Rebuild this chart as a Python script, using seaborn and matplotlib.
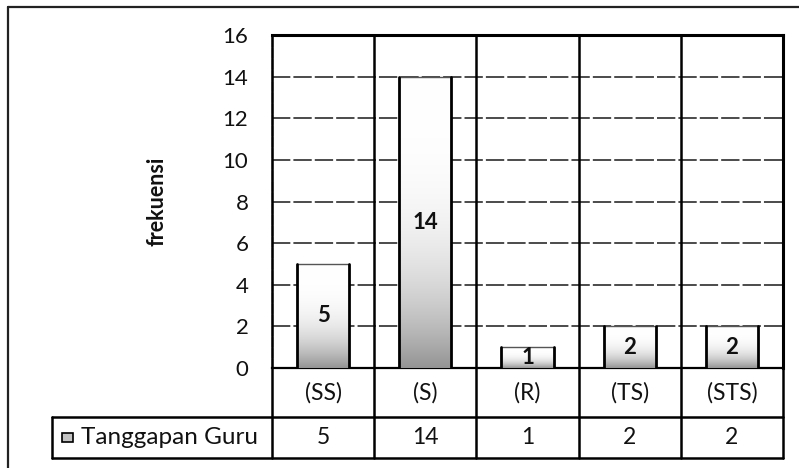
import numpy as np
import pandas as pd
import matplotlib
matplotlib.use("Agg")
import matplotlib.pyplot as plt
from matplotlib.lines import Line2D
from matplotlib.patches import Rectangle
import seaborn as sns

# Survey responses (Likert scale) and their counts
categories = ["(SS)", "(S)", "(R)", "(TS)", "(STS)"]
frequencies = [5, 14, 1, 2, 2]
series_name = "Tanggapan Guru"
y_ticks = [0, 2, 4, 6, 8, 10, 12, 14, 16]
y_label = "frekuensi"

df = pd.DataFrame({"kategori": categories, "frekuensi": frequencies})

sns.set_theme(style="white")
plt.rcParams["font.family"] = ["Lato", "DejaVu Sans"]

W, H = 799, 468
fig = plt.figure(figsize=(W / 100, H / 100), dpi=100)
fig.patch.set_facecolor("white")

# plot area in pixel terms -> figure fractions
px_left, px_right, px_top, px_bottom = 272, 783, 35, 368
ax = fig.add_axes([px_left / W, 1 - px_bottom / H,
                   (px_right - px_left) / W, (px_bottom - px_top) / H])
ax.set_facecolor("white")

sns.barplot(data=df, x="kategori", y="frekuensi", color="white",
            edgecolor="none", linewidth=0, width=0.51, ax=ax,
            zorder=3, saturation=1)

# white-to-grey gradient fill inside each bar, darkest at the base
ramp = np.linspace(0, 1, 256)[:, None]          # 0 at bottom, 1 at top
shade = 0.42 * (1 - ramp) ** 3.0
img = np.dstack([1 - shade] * 3)
for bar in ax.patches:
    x0, w, h = bar.get_x(), bar.get_width(), bar.get_height()
    im = ax.imshow(img, extent=[x0, x0 + w, 0, h], origin="lower",
                   aspect="auto", zorder=3.5, interpolation="bilinear")
    im.set_clip_path(bar)
    # thin top edge, heavy side edges
    ax.plot([x0, x0 + w], [h, h], color="#555555", linewidth=1.0,
            zorder=4)
    ax.plot([x0, x0], [0, h], color="black", linewidth=2.0, zorder=4)
    ax.plot([x0 + w, x0 + w], [0, h], color="black", linewidth=2.0,
            zorder=4)

ax.bar_label(ax.containers[0], labels=[str(v) for v in frequencies],
             label_type="center", fontsize=16, fontweight="bold",
             color="#111111", zorder=6)

ax.set_xlim(-0.5, len(categories) - 0.5)
ax.set_ylim(0, 16)
ax.set_yticks(y_ticks)
ax.set_yticklabels([str(t) for t in y_ticks], fontsize=16, color="#111111")
ax.tick_params(axis="y", length=0, pad=17)
ax.set_xticks([])
ax.set_xlabel("")
ax.set_ylabel(y_label, fontsize=15.5, fontweight="bold", color="#111111")
ax.yaxis.set_label_coords(-0.205, 0.5)

# horizontal gridlines
for t in y_ticks[1:-1]:
    ax.axhline(t, color="#1a1a1a", linewidth=1.1, linestyle=(0, (12, 2)),
               zorder=1)

for side in ["top", "right"]:
    ax.spines[side].set_visible(True)
    ax.spines[side].set_color("black")
    ax.spines[side].set_linewidth(2.2)
ax.spines["left"].set_color("#444444")
ax.spines["left"].set_linewidth(1.0)
ax.spines["left"].set_linestyle((0, (6, 2)))
ax.spines["bottom"].set_color("black")
ax.spines["bottom"].set_linewidth(1.6)

# ---- data table beneath the plot ----
row1 = -(417 - px_bottom) / (px_bottom - px_top)
row2 = -(458 - px_bottom) / (px_bottom - px_top)
hdr_left = (52 - px_left) / (px_right - px_left)
ta = ax.transAxes
line_kw = dict(color="black", linewidth=1.8, clip_on=False, zorder=5)

# category separators run through the plot and the table
xt = ax.get_xaxis_transform()
for b in np.arange(len(categories) + 1) - 0.5:
    ax.plot([b, b], [1, row2], transform=xt, **line_kw)
ax.plot([hdr_left, 1], [row1, row1], transform=ta, **line_kw)
ax.plot([hdr_left, 1], [row2, row2], transform=ta, **line_kw)
ax.plot([hdr_left, hdr_left], [row1, row2], transform=ta, **line_kw)

for i, (cat, val) in enumerate(zip(categories, frequencies)):
    ax.text(i, row1 / 2, cat, transform=xt, ha="center", va="center",
            fontsize=16.5, color="#111111")
    ax.text(i, (row1 + row2) / 2, str(val), transform=xt, ha="center",
            va="center", fontsize=16.5, color="#111111")

# series key + name in the header cell
key_x = (62 - px_left) / (px_right - px_left)
key_w = 11 / (px_right - px_left)
key_h = 9 / (px_bottom - px_top)
ymid = (row1 + row2) / 2
ax.add_patch(Rectangle((key_x, ymid - key_h / 2), key_w, key_h,
                       transform=ta, facecolor="#c4c4c4", edgecolor="black",
                       linewidth=1.2, clip_on=False, zorder=5))
ax.text((81 - px_left) / (px_right - px_left), ymid, series_name,
        transform=ta, ha="left", va="center", fontsize=17.5,
        color="#111111")

# outer chart frame (top and left edges)
fig.add_artist(Line2D([8 / W, 1], [1 - 7 / H, 1 - 7 / H],
                      transform=fig.transFigure, color="#222222",
                      linewidth=1.6))
fig.add_artist(Line2D([8 / W, 8 / W], [1 - 7 / H, 0],
                      transform=fig.transFigure, color="#222222",
                      linewidth=1.6))

fig.savefig("out.png", dpi=100, facecolor="white")
